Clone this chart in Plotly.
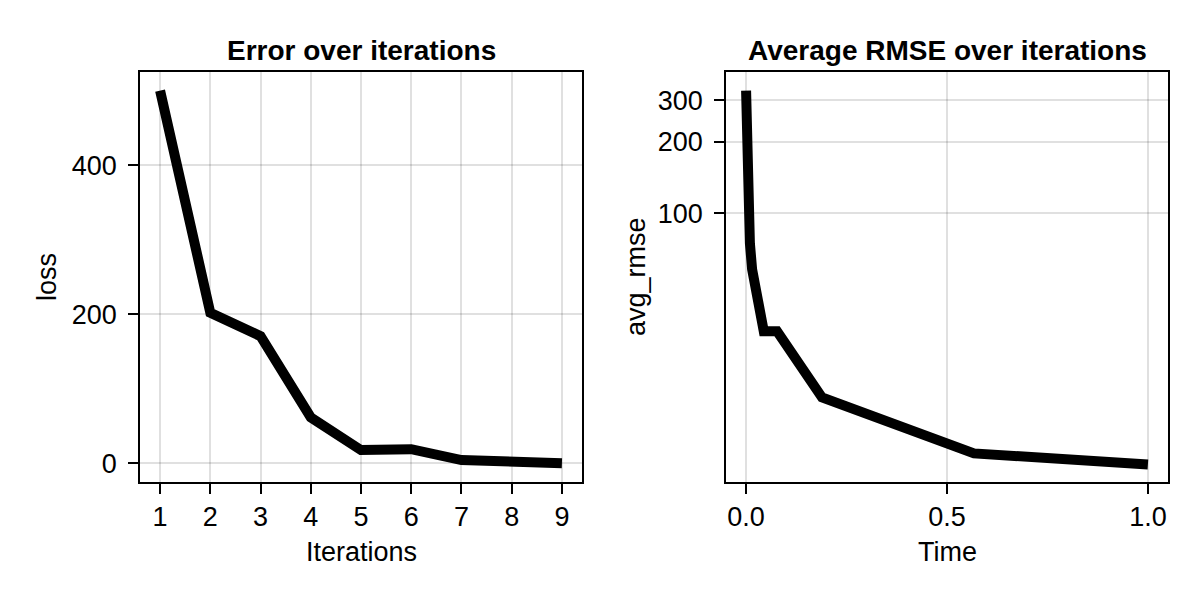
import plotly.graph_objects as go

# ---- data ----
iterations = [1, 2, 3, 4, 5, 6, 7, 8, 9]
loss = [500, 202, 170.6, 61.7, 17.8, 19, 4.4, 0.8, 0.2]

time = [0, 0.003, 0.005, 0.0095, 0.015, 0.044, 0.077, 0.189, 0.567, 1.0]
avg_rmse = [329, 200, 100, 74.5, 58, 31.8, 31.8, 16.7, 9.7, 8.7]

left_ticks = [0, 200, 400]
left_xticks = [1, 2, 3, 4, 5, 6, 7, 8, 9]
right_yticks = [100, 200, 300]
right_xticks = [0.0, 0.5, 1.0]
right_xticktext = ["0.0", "0.5", "1.0"]

W, H = 1200, 600
FONT = "Liberation Sans, Arial, Helvetica, sans-serif"
FS = 27
GRID = "rgba(0,0,0,0.12)"

def px(x):
    return x / W

def py(y):
    return 1 - y / H

fig = go.Figure()
fig.add_trace(go.Scatter(x=iterations, y=loss, mode="lines",
                         line=dict(color="black", width=10),
                         xaxis="x", yaxis="y", showlegend=False))
fig.add_trace(go.Scatter(x=time, y=avg_rmse, mode="lines",
                         line=dict(color="black", width=10),
                         xaxis="x2", yaxis="y2", showlegend=False))

axis_common = dict(
    showline=True, linecolor="black", linewidth=1.7, mirror=True,
    showgrid=True, gridcolor=GRID, gridwidth=1.5,
    ticks="outside", ticklen=10, tickwidth=1.7, tickcolor="black",
    tickfont=dict(family=FONT, size=FS, color="black"),
    zeroline=False,
)

ydom = [py(482), py(72)]
fig.update_layout(
    width=W, height=H, margin=dict(l=0, r=0, t=0, b=0),
    paper_bgcolor="white", plot_bgcolor="white",
    font=dict(family=FONT, size=FS, color="black"),
    xaxis=dict(domain=[px(140), px(582)], range=[0.6, 9.4],
               tickmode="array", tickvals=left_xticks, anchor="y", **axis_common),
    yaxis=dict(domain=ydom, range=[-25, 525], ticklabelstandoff=6,
               tickmode="array", tickvals=left_ticks, anchor="x", **axis_common),
    xaxis2=dict(domain=[px(726), px(1168)], range=[-0.05, 1.05],
                tickmode="array", tickvals=right_xticks, ticktext=right_xticktext,
                anchor="y2", **axis_common),
    yaxis2=dict(domain=ydom, type="log", range=[0.866, 2.596], ticklabelstandoff=6,
                tickmode="array", tickvals=right_yticks,
                ticktext=[str(v) for v in right_yticks], anchor="x2", **axis_common),
)

def ann(text, x, y, bold=False, angle=0, size=FS):
    fig.add_annotation(text=("<b>%s</b>" % text) if bold else text,
                       x=px(x), y=py(y), xref="paper", yref="paper",
                       showarrow=False, xanchor="center", yanchor="middle",
                       textangle=angle,
                       font=dict(family=FONT, size=size, color="black"))

ann("Error over iterations", 361, 50, bold=True, size=28)
ann("Average RMSE over iterations", 947, 50, bold=True, size=28)
ann("Iterations", 361, 552)
ann("Time", 947, 552)
ann("loss", 47, 277, angle=-90)
ann("avg_rmse", 636, 277, angle=-90)

fig.write_html("out.html", config={"displayModeBar": False},
               post_script="document.body.style.margin='0';")
